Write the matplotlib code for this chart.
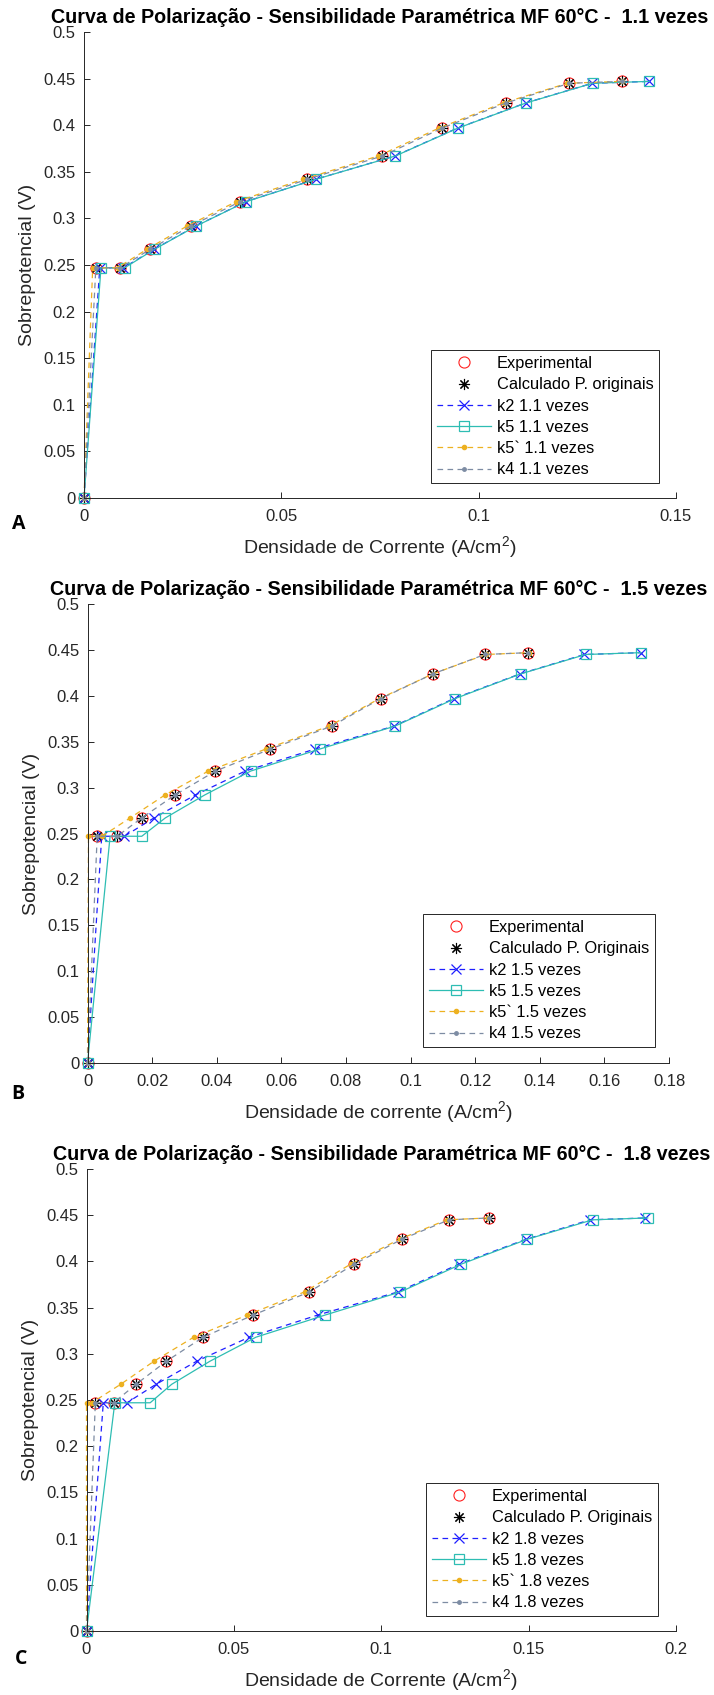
import matplotlib
matplotlib.use("Agg")
import matplotlib.pyplot as plt

plt.rcParams['font.family'] = ['Liberation Sans', 'DejaVu Sans']
plt.rcParams['mathtext.fontset'] = 'custom'
plt.rcParams['mathtext.rm'] = 'Liberation Sans'
plt.rcParams['mathtext.it'] = 'Liberation Sans:italic'

# ---------------- data ----------------
volt = [0, 0.247, 0.247, 0.267, 0.292, 0.318, 0.342, 0.367, 0.397, 0.424, 0.445, 0.447]
exp_x = [0, 0.0030, 0.0092, 0.0168, 0.0271, 0.0396, 0.0566, 0.0756, 0.0908, 0.1070, 0.1230, 0.1364]
calc_x = [0, 0.0030, 0.0092, 0.0168, 0.0271, 0.0396, 0.0566, 0.0756, 0.0908, 0.1070, 0.1230, 0.1364]

# Panel A (1.1 vezes)
k2_a = [0, 0.0040, 0.0100, 0.0178, 0.0284, 0.0410, 0.0587, 0.0788, 0.0947, 0.1120, 0.1288, 0.1431]
k5_a = [0, 0.0043, 0.0103, 0.0179, 0.0285, 0.0411, 0.0588, 0.0789, 0.0948, 0.1121, 0.1289, 0.1432]
k5p_a = [0, 0.0022, 0.0085, 0.0160, 0.0262, 0.0386, 0.0556, 0.0746, 0.0900, 0.1063, 0.1225, 0.1362]
k4_a = [0, 0.0030, 0.0092, 0.0168, 0.0271, 0.0396, 0.0566, 0.0756, 0.0908, 0.1070, 0.1230, 0.1364]

# Panel B (1.5 vezes)
k2_b = [0, 0.0044, 0.0114, 0.0206, 0.0334, 0.0488, 0.0704, 0.0949, 0.1134, 0.1340, 0.1538, 0.1713]
k5_b = [0, 0.0070, 0.0168, 0.0241, 0.0363, 0.0505, 0.0719, 0.0952, 0.1138, 0.1342, 0.1542, 0.1713]
k5p_b = [0, 0.0003, 0.0045, 0.0132, 0.0240, 0.0374, 0.0552, 0.0748, 0.0904, 0.1070, 0.1233, 0.1368]
k4_b = [0, 0.0030, 0.0092, 0.0168, 0.0271, 0.0396, 0.0566, 0.0756, 0.0908, 0.1070, 0.1230, 0.1364]

# Panel C (1.8 vezes)
k2_c = [0, 0.0057, 0.0137, 0.0236, 0.0374, 0.0552, 0.0785, 0.1057, 0.1263, 0.1492, 0.1709, 0.1896]
k5_c = [0, 0.0096, 0.0216, 0.0289, 0.0419, 0.0575, 0.0810, 0.1065, 0.1271, 0.1496, 0.1717, 0.1904]
k5p_c = [0, 0.0, 0.0018, 0.0116, 0.0229, 0.0364, 0.0546, 0.0740, 0.0896, 0.1062, 0.1222, 0.1362]
k4_c = [0, 0.0030, 0.0092, 0.0168, 0.0271, 0.0396, 0.0566, 0.0756, 0.0908, 0.1070, 0.1230, 0.1364]

factors = ['1.1', '1.5', '1.8']
panel_letters = ['A', 'B', 'C']
calc_labels = ['Calculado P. originais', 'Calculado P. Originais', 'Calculado P. Originais']
xlabels = ['Densidade de Corrente (A/cm$^2$)', 'Densidade de corrente (A/cm$^2$)',
           'Densidade de Corrente (A/cm$^2$)']
xticks_list = [[0, 0.05, 0.1, 0.15],
               [0, 0.02, 0.04, 0.06, 0.08, 0.1, 0.12, 0.14, 0.16, 0.18],
               [0, 0.05, 0.1, 0.15, 0.2]]
xtick_labels = [['0', '0.05', '0.1', '0.15'],
                ['0', '0.02', '0.04', '0.06', '0.08', '0.1', '0.12', '0.14', '0.16', '0.18'],
                ['0', '0.05', '0.1', '0.15', '0.2']]
yticks = [0, 0.05, 0.1, 0.15, 0.2, 0.25, 0.3, 0.35, 0.4, 0.45, 0.5]
ytick_labels = ['0', '0.05', '0.1', '0.15', '0.2', '0.25', '0.3', '0.35', '0.4', '0.45', '0.5']

series_k2 = [k2_a, k2_b, k2_c]
series_k5 = [k5_a, k5_b, k5_c]
series_k5p = [k5p_a, k5p_b, k5p_c]
series_k4 = [k4_a, k4_b, k4_c]

# ---------------- layout ----------------
W, H = 714, 1695
fig = plt.figure(figsize=(W / 100, H / 100), dpi=100)

# axes boxes in pixels: left, right, top, bottom
boxes = [(84, 676, 32, 498), (87.5, 669, 604, 1063), (86.5, 676, 1169, 1631)]
legend_anchor = [(659, 483), (655, 1047), (658, 1616)]
letter_pos = [(19, 524), (18, 1094), (21, 1659)]

axis_col = '#262626'
c_k2 = '#1f1fff'
c_k5 = '#2ebdb3'
c_k5p = '#EDB120'
c_k4 = '#7d8ca3'

for i in range(3):
    l, r, t, b = boxes[i]
    ax = fig.add_axes([l / W, 1 - b / H, (r - l) / W, (b - t) / H])
    f = factors[i]
    ax.plot(exp_x, volt, linestyle='none', marker='o', markersize=8,
            markerfacecolor='none', markeredgecolor='#ff2020', markeredgewidth=0.8,
            label='Experimental', clip_on=False)
    ax.plot(calc_x, volt, linestyle='none', marker=(8, 2, 0), markersize=8,
            color='black', markeredgewidth=0.8, label=calc_labels[i], clip_on=False)
    ax.plot(series_k2[i], volt, color=c_k2, linestyle=(0, (4.5, 3.5)), linewidth=0.9,
            marker='x', markersize=6.5, markeredgewidth=0.9,
            label='k2 %s vezes' % f, clip_on=False)
    ax.plot(series_k5[i], volt, color=c_k5, linestyle='-', linewidth=0.9,
            marker='s', markersize=6.5, markerfacecolor='none', markeredgewidth=0.9,
            label='k5 %s vezes' % f, clip_on=False)
    ax.plot(series_k5p[i], volt, color=c_k5p, linestyle=(0, (4.5, 3.5)), linewidth=0.9,
            marker='.', markersize=6, label='k5` %s vezes' % f, clip_on=False)
    ax.plot(series_k4[i], volt, color=c_k4, linestyle=(0, (4.5, 3.5)), linewidth=0.9,
            marker='.', markersize=5, label='k4 %s vezes' % f, clip_on=False)

    ax.set_xlim(xticks_list[i][0], xticks_list[i][-1])
    ax.set_ylim(0, 0.5)
    ax.set_xticks(xticks_list[i])
    ax.set_xticklabels(xtick_labels[i])
    ax.set_yticks(yticks)
    ax.set_yticklabels(ytick_labels)
    for s in ['top', 'right']:
        ax.spines[s].set_visible(False)
    for s in ['left', 'bottom']:
        ax.spines[s].set_color(axis_col)
        ax.spines[s].set_linewidth(0.7)
    ax.tick_params(axis='both', direction='in', length=4, width=0.7,
                   colors=axis_col, labelsize=12)
    ax.tick_params(axis='x', pad=8)
    ax.tick_params(axis='y', pad=6)
    ax.set_title('Curva de Polarização - Sensibilidade Paramétrica MF 60°C -  %s vezes' % f,
                 fontsize=14.2, fontweight='bold', pad=6.5, color='black')
    ax.set_xlabel(xlabels[i], fontsize=14, color=axis_col, labelpad=7)
    ax.set_ylabel('Sobrepotencial (V)', fontsize=14, color=axis_col, labelpad=5)

    lx, ly = legend_anchor[i]
    leg = ax.legend(loc='lower right', bbox_to_anchor=(lx / W, 1 - ly / H),
                    bbox_transform=fig.transFigure, borderaxespad=0,
                    fontsize=11.8, handlelength=3.3, handletextpad=0.35,
                    labelspacing=0.38, borderpad=0.35, fancybox=False,
                    edgecolor='#262626', framealpha=1, numpoints=1)
    leg.get_frame().set_linewidth(0.7)

    px, py = letter_pos[i]
    fig.text(px / W, 1 - py / H, panel_letters[i], fontsize=14, fontweight='bold',
             family=['Open Sans', 'DejaVu Sans'], ha='center', va='center')

fig.savefig('out.png', dpi=100)
